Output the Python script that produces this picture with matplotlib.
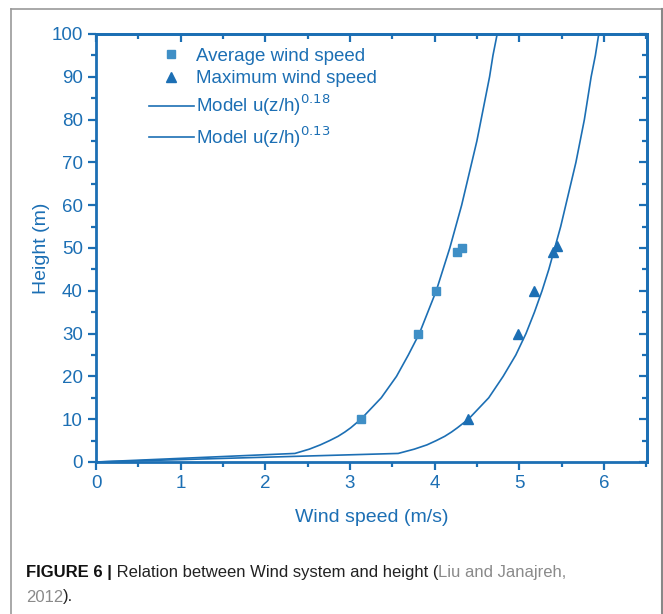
import matplotlib.pyplot as plt
from matplotlib.ticker import MultipleLocator
from matplotlib.lines import Line2D

# measured points
avg_speed = [3.13, 3.81, 4.02, 4.27, 4.32]
avg_height = [10, 30, 40, 49, 50]
max_speed = [4.40, 4.99, 5.18, 5.40, 5.45]
max_height = [10, 30, 40, 49, 50.5]

# model curves
model18_speed = [0.0, 2.35, 2.52, 2.65, 2.76, 2.86, 2.94, 3.01, 3.13, 3.37, 3.55, 3.69, 3.82,
                 3.92, 4.02, 4.10, 4.18, 4.25, 4.32, 4.38, 4.44, 4.50, 4.55, 4.60, 4.65, 4.69, 4.74, 4.83]
model18_height = [0, 2, 3, 4, 5, 6, 7, 8, 10, 15, 20, 25, 30,
                  35, 40, 45, 50, 55, 60, 65, 70, 75, 80, 85, 90, 95, 100, 110]
model13_speed = [0.0, 3.57, 3.76, 3.91, 4.02, 4.12, 4.20, 4.27, 4.40, 4.64, 4.81, 4.96, 5.08,
                 5.18, 5.27, 5.35, 5.42, 5.49, 5.55, 5.61, 5.67, 5.72, 5.77, 5.81, 5.85, 5.90, 5.94, 6.01]
model13_height = [0, 2, 3, 4, 5, 6, 7, 8, 10, 15, 20, 25, 30,
                  35, 40, 45, 50, 55, 60, 65, 70, 75, 80, 85, 90, 95, 100, 110]

blue = '#1c6fb4'
blue_sq = '#3f8fc6'

plt.rcParams['font.family'] = ['Liberation Sans Narrow', 'Liberation Sans', 'DejaVu Sans']

fig = plt.figure(figsize=(6.63, 6.14), dpi=100)
ax = fig.add_axes([96/663, 1-462/614, 551/663, 428/614])

ax.plot(model18_speed, model18_height, color=blue, lw=1.2)
ax.plot(model13_speed, model13_height, color=blue, lw=1.2)
ax.plot(avg_speed, avg_height, 's', color=blue_sq, ms=6, mec=blue_sq)
ax.plot(max_speed, max_height, '^', color=blue, ms=7.5, mec=blue)

ax.set_xlim(0, 6.51)
ax.set_ylim(0, 100)
ax.xaxis.set_major_locator(MultipleLocator(1))
ax.xaxis.set_minor_locator(MultipleLocator(0.5))
ax.yaxis.set_major_locator(MultipleLocator(10))
ax.yaxis.set_minor_locator(MultipleLocator(5))
for s in ax.spines.values():
    s.set_color(blue)
    s.set_linewidth(2)
ax.tick_params(which='both', direction='out', colors=blue, width=1.6, labelsize=13.5, labelcolor=blue)
ax.tick_params(which='major', length=6)
ax.tick_params(which='minor', length=3.5)

top = ax.secondary_xaxis('top')
top.xaxis.set_major_locator(MultipleLocator(1))
top.xaxis.set_minor_locator(MultipleLocator(0.5))
top.tick_params(which='both', direction='in', colors=blue, width=1.6, labeltop=False)
top.tick_params(which='major', length=6)
top.tick_params(which='minor', length=3.5)
top.spines['top'].set_color(blue)
top.spines['top'].set_linewidth(2)
right = ax.secondary_yaxis('right')
right.yaxis.set_major_locator(MultipleLocator(10))
right.yaxis.set_minor_locator(MultipleLocator(5))
right.tick_params(which='both', direction='in', colors=blue, width=1.6, labelright=False)
right.tick_params(which='major', length=6)
right.tick_params(which='minor', length=3.5)
right.spines['right'].set_color(blue)
right.spines['right'].set_linewidth(2)

ax.set_xlabel('Wind speed (m/s)', color=blue, fontsize=14, labelpad=12)
ax.set_ylabel('Height (m)', color=blue, fontsize=14, labelpad=1)

handles = [
    Line2D([], [], ls='none', marker='s', color=blue_sq, ms=6),
    Line2D([], [], ls='none', marker='^', color=blue, ms=7.5),
    Line2D([], [], color=blue, lw=1.2),
    Line2D([], [], color=blue, lw=1.2),
]
labels = ['Average wind speed', 'Maximum wind speed',
          r'Model u(z/h)$^{0.18}$', r'Model u(z/h)$^{0.13}$']
leg = ax.legend(handles, labels, loc='upper left', bbox_to_anchor=(0.065, 1.008),
                frameon=False, fontsize=13.5, labelcolor=blue, handlelength=2.4,
                handletextpad=0.12, labelspacing=0.3)

# frame around the figure
fc = '#999999'
fig.add_artist(Line2D([11/663, 11/663], [0, 1-9/614], color=fc, lw=1.2, transform=fig.transFigure))
fig.add_artist(Line2D([11/663, 662/663], [1-9/614, 1-9/614], color=fc, lw=1.2, transform=fig.transFigure))
fig.add_artist(Line2D([662/663, 662/663], [0, 1-9/614], color='#888888', lw=1.5, transform=fig.transFigure))

# caption, pieces placed one after another
fig.canvas.draw()
r = fig.canvas.get_renderer()
cs = 12
pieces = [('FIGURE 6 |', 'bold', '#111111'),
          (' Relation between Wind system and height (', 'normal', '#222222'),
          ('Liu and Janajreh,', 'normal', '#8a8a8a')]
x = 26
for txt, w, c in pieces:
    t = fig.text(x/663, 1-573/614, txt, fontsize=cs, fontweight=w, color=c, va='center')
    x += t.get_window_extent(r).width
x = 26
t = fig.text(x/663, 1-597/614, '2012', fontsize=cs, color='#8a8a8a', va='center')
x += t.get_window_extent(r).width
fig.text(x/663, 1-597/614, ').', fontsize=cs, color='#222222', va='center')

plt.savefig('out.png', dpi=100)
